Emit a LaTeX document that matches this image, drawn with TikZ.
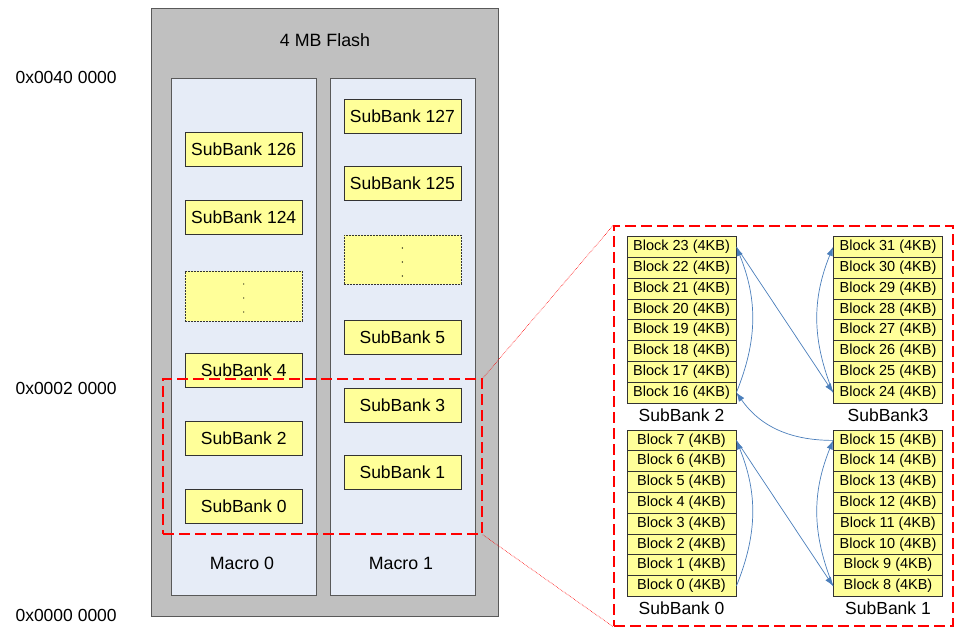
\documentclass[tikz,border=0pt]{standalone}
\usepackage{fontspec}
\setmainfont{Liberation Sans}
\usetikzlibrary{positioning,arrows.meta}
\definecolor{flashgray}{HTML}{C0C0C0}
\definecolor{edgegray}{HTML}{595959}
\definecolor{macroblue}{HTML}{E6ECF7}
\definecolor{subyellow}{HTML}{FFFF99}
\definecolor{linkblue}{HTML}{4A7EBB}

\begin{document}
\begin{tikzpicture}[x=1pt, y=1pt, font=\fontsize{17.5}{20}\selectfont,
    flash/.style = {draw=edgegray, fill=flashgray, line width=0.8pt, minimum width=347pt, minimum height=608pt},
    macro/.style = {draw=edgegray, fill=macroblue, line width=0.8pt, minimum width=145pt, minimum height=517pt},
    sub/.style = {draw=black!80, fill=subyellow, line width=0.8pt, minimum width=117pt, minimum height=34pt},
    gap/.style = {sub, dash pattern=on 2pt off 1pt},
    blk/.style = {draw=black!80, fill=subyellow, line width=0.8pt, inner sep=0pt,
                  minimum width=109pt, minimum height=20.8pt, font=\fontsize{14.5}{16}\selectfont},
    sblabel/.style = {font=\fontsize{17.5}{20}\selectfont, inner sep=2pt},
    zoom/.style = {draw=red, line width=1.5pt, dash pattern=on 11pt off 5pt, inner sep=0pt},
    zoomline/.style = {draw=red, line width=0.6pt, densely dotted},
    link/.style = {draw=linkblue, line width=0.7pt, -{Latex[length=9pt,width=6.5pt]}}]
    \useasboundingbox (0,0) rectangle (955,-628);

    % addresses
    \node[anchor=west] (a40) at (12,-77) {0x0040 0000};
    \node[anchor=west] (a02) at (12,-388) {0x0002 0000};
    \node[anchor=west] (a00) at (12,-615) {0x0000 0000};

    % flash and macros
    \node[flash] (flash) at (324.5,-312) {};
    \node[font=\fontsize{17.8}{20}\selectfont] (title) at (325,-40) {4 MB Flash};
    \node[macro] (m0) at (244.2,-337.3) {};
    \node[macro] (m1) at (403.3,-337.3) {};
    \node[font=\fontsize{17.8}{20}\selectfont] (m0label) at (242,-563) {Macro 0};
    \node[font=\fontsize{17.8}{20}\selectfont] (m1label) at (401,-563) {Macro 1};

    % subbanks of macro 0
    \node[sub] (s126) at (243.7,-149) {SubBank 126};
    \node[sub] (s124) at (243.7,-217.5) {SubBank 124};
    \node[gap, minimum height=50pt] (sgap0) at (243.7,-296) {};
    \node[sub] (s4) at (243.7,-370) {SubBank 4};
    \node[sub] (s2) at (243.7,-438) {SubBank 2};
    \node[sub] (s0) at (243.7,-506) {SubBank 0};
    % subbanks of macro 1
    \node[sub] (s127) at (402.4,-116) {SubBank 127};
    \node[sub] (s125) at (402.4,-183.5) {SubBank 125};
    \node[gap, minimum height=49pt] (sgap1) at (402.4,-259.5) {};
    \node[sub] (s5) at (402.4,-337) {SubBank 5};
    \node[sub] (s3) at (402.4,-405) {SubBank 3};
    \node[sub] (s1) at (402.4,-472) {SubBank 1};
    \foreach \y in {-284,-298,-312} \fill (243.7,\y) circle (0.7);
    \foreach \y in {-248,-262,-276} \fill (402.4,\y) circle (0.7);

    % zoomed area
    \node[zoom, minimum width=319pt, minimum height=155pt] (zoombox) at (322.5,-456.5) {};
    \node[zoom, minimum width=339pt, minimum height=400pt] (detail) at (783.5,-426) {};
    \draw[zoomline] (zoombox.north east) -- (detail.north west);
    \draw[zoomline] (zoombox.south east) -- (detail.south west);

    % blocks
    \foreach \i in {16,...,23} \node[blk] (b\i) at (681.5,{-246.9-(23-\i)*20.8}) {Block \i{} (4KB)};
    \foreach \i in {24,...,31} \node[blk] (b\i) at (888,{-246.9-(31-\i)*20.8}) {Block \i{} (4KB)};
    \foreach \i in {0,...,7} \node[blk] (b\i) at (681.5,{-440.4-(7-\i)*20.8}) {Block \i{} (4KB)};
    \foreach \i in {8,...,15} \node[blk] (b\i) at (888,{-440.4-(15-\i)*20.8}) {Block \i{} (4KB)};
    \node[sblabel] (sb2) [below=3pt of b16] {SubBank 2};
    \node[sblabel] (sb3) [below=3pt of b24] {SubBank3};
    \node[sblabel] (sb0) [below=3pt of b0] {SubBank 0};
    \node[sblabel] (sb1) [below=3pt of b8] {SubBank 1};

    % block order
    \draw[link] (b0.east) to[bend right=22] (b7.east);
    \draw[link] (b7.east) -- (b8.west);
    \draw[link] (b8.west) to[bend left=22] (b15.west);
    \draw[link] (b15.west) to[out=180, in=-55] (b16.east);
    \draw[link] (b16.east) to[bend right=22] (b23.east);
    \draw[link] (b23.east) -- (b24.west);
    \draw[link] (b24.west) to[bend left=22] (b31.west);
\end{tikzpicture}
\end{document}
